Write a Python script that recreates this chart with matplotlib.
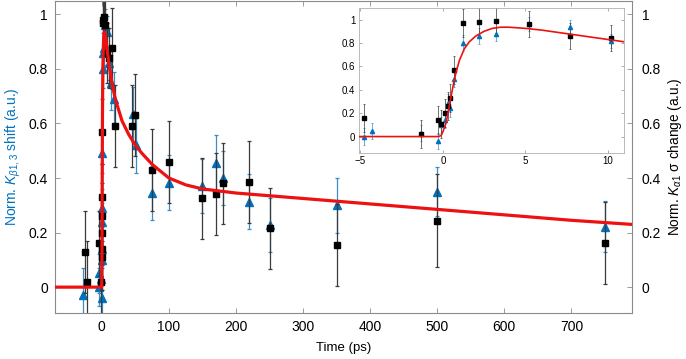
import matplotlib
matplotlib.use('Agg')
import numpy as np
import matplotlib.pyplot as plt

plt.rcParams.update({
    'font.family': ['Liberation Sans', 'DejaVu Sans'],
    'mathtext.fontset': 'custom',
    'mathtext.rm': 'Liberation Sans',
    'mathtext.it': 'Liberation Sans:italic',
    'mathtext.bf': 'Liberation Sans:bold',
    'font.size': 9,
})

BLUE = (0.0, 0.447, 0.741)
BLUE_ERR = '#3d8cc6'
GREY_ERR = '#3a3a3a'
SPINE = '#8a8a8a'

# K-alpha1 sigma change (black squares)
t_ka = [-25, -22, -4.8, -1.3, -0.3, -0.1, 0.15, 0.3, 0.45, 0.7, 1.2, 2.2, 3.2,
        5.2, 7.7, 10.2, 15, 19, 45.5, 50, 75, 100, 150, 170, 180, 220, 250,
        350, 500, 750]
y_ka = [0.13, 0.02, 0.16, 0.02, 0.14, 0.11, 0.20, 0.26, 0.33, 0.57, 0.97, 0.98,
        0.99, 0.96, 0.86, 0.84, 0.875, 0.59, 0.59, 0.63, 0.43, 0.46, 0.325,
        0.34, 0.38, 0.385, 0.215, 0.155, 0.243, 0.163]
e_ka = [0.15, 0.15, 0.12, 0.12, 0.12, 0.12, 0.12, 0.12, 0.12, 0.12, 0.12, 0.12,
        0.11, 0.11, 0.11, 0.11, 0.15, 0.15, 0.15, 0.15, 0.15, 0.15, 0.15,
        0.15, 0.15, 0.15, 0.15, 0.15, 0.17, 0.15]

# K-beta1,3 shift (blue triangles)
t_kb = [-28, -4.8, -4.3, -1.3, -0.3, -0.1, 0.1, 0.3, 0.45, 0.7, 1.2, 2.2, 3.2,
        5.2, 7.7, 10.2, 14, 17.6, 46, 51, 75, 100, 150, 170, 180, 220, 250,
        350, 500, 750]
y_kb = [-0.03, 0.0, 0.05, 0.03, -0.04, 0.10, 0.14, 0.29, 0.24, 0.49, 0.80, 0.86,
        0.875, 0.96, 0.935, 0.82, 0.75, 0.69, 0.633, 0.52, 0.345, 0.383, 0.37,
        0.456, 0.40, 0.313, 0.228, 0.30, 0.35, 0.222]
e_kb = [0.10, 0.07, 0.07, 0.07, 0.07, 0.07, 0.07, 0.07, 0.07, 0.07, 0.07, 0.07,
        0.06, 0.06, 0.06, 0.06, 0.10, 0.10, 0.10, 0.10, 0.10, 0.10, 0.10,
        0.10, 0.10, 0.10, 0.10, 0.10, 0.09, 0.095]

# fitted curve
fit_t = [-70, -0.25, -0.1, 0.0, 0.2, 0.4, 0.6, 0.8, 1.0, 1.3, 1.6, 2.0, 2.5,
         3.0, 3.5, 4.0, 5.0, 6.0, 7.0, 8.0, 9.0, 10.0, 11.0, 15, 20, 30, 40,
         50, 60, 75, 100, 125, 150, 200, 300, 400, 500, 600, 700, 790]
fit_y = [0.0, 0.0, 0.01, 0.04, 0.12, 0.27, 0.42, 0.55, 0.65, 0.75, 0.81, 0.86,
         0.90, 0.925, 0.935, 0.935, 0.925, 0.91, 0.89, 0.87, 0.85, 0.83, 0.81,
         0.75, 0.69, 0.61, 0.56, 0.52, 0.49, 0.45, 0.40, 0.375, 0.36, 0.345,
         0.325, 0.305, 0.285, 0.265, 0.245, 0.23]

fig = plt.figure(figsize=(6.86, 3.59), dpi=100)
ax = fig.add_axes([0.080, 0.128, 0.841, 0.870])

ax.errorbar(t_kb, y_kb, yerr=e_kb, fmt='^', color=BLUE, ecolor=BLUE_ERR,
            ms=6, elinewidth=0.9, capsize=1.5, capthick=0.9, zorder=2)
ax.errorbar(t_ka, y_ka, yerr=e_ka, fmt='s', color='black', ecolor=GREY_ERR,
            ms=5, elinewidth=0.9, capsize=1.5, capthick=0.9, zorder=2.5)
ax.plot(fit_t, fit_y, color='#ee1111', lw=2.3, zorder=3)

ax.set_xlim(-70, 790)
ax.set_ylim(-0.095, 1.05)
ax.set_xticks(np.arange(0, 701, 100))
ax.set_yticks([0, 0.2, 0.4, 0.6, 0.8, 1])
ax.set_yticklabels(['0', '0.2', '0.4', '0.6', '0.8', '1'])
ax.tick_params(direction='in', top=True, length=3.5, width=0.6, color=SPINE,
               labelsize=10, pad=5)
for s in ax.spines.values():
    s.set_color(SPINE)
    s.set_linewidth(0.8)
ax.set_xlabel('Time (ps)', fontsize=9.5, labelpad=6)
ax.set_ylabel(r'Norm. $K_{\beta1,3}$ shift (a.u.)', color=BLUE, fontsize=10,
              labelpad=4)

ax2 = ax.twinx()
ax2.set_ylim(ax.get_ylim())
ax2.set_yticks([0, 0.2, 0.4, 0.6, 0.8, 1])
ax2.set_yticklabels(['0', '0.2', '0.4', '0.6', '0.8', '1'])
ax2.tick_params(direction='in', length=3.5, width=0.6, color=SPINE,
                labelsize=10, pad=7)
for s in ax2.spines.values():
    s.set_visible(False)
ax2.set_ylabel(r'Norm. $K_{\alpha1}$ σ change (a.u.)', fontsize=9.8,
               labelpad=4)

# inset: zoom on the rise
ins = fig.add_axes([0.523, 0.574, 0.387, 0.404])
ins.set_zorder(5)
ins.errorbar(t_kb, y_kb, yerr=e_kb, fmt='^', color=BLUE, ecolor=BLUE_ERR,
             ms=3, elinewidth=0.5, capsize=1, capthick=0.5)
ins.errorbar(t_ka, y_ka, yerr=e_ka, fmt='s', color='black', ecolor=GREY_ERR,
             ms=2.5, elinewidth=0.5, capsize=1, capthick=0.5)
ins.plot(fit_t, fit_y, color='#ee1111', lw=1.2, zorder=3)
ins.set_xlim(-5.1, 11)
ins.set_ylim(-0.14, 1.1)
ins.set_xticks([-5, 0, 5, 10])
ins.set_yticks([0, 0.2, 0.4, 0.6, 0.8, 1])
ins.set_yticklabels(['0', '0.2', '0.4', '0.6', '0.8', '1'])
ins.tick_params(direction='in', top=True, right=True, length=2.5, width=0.5,
                color=SPINE, labelsize=7, pad=2.5)
for s in ins.spines.values():
    s.set_color('#b0b0b0')
    s.set_linewidth(0.6)

fig.savefig('out.png', dpi=100)
